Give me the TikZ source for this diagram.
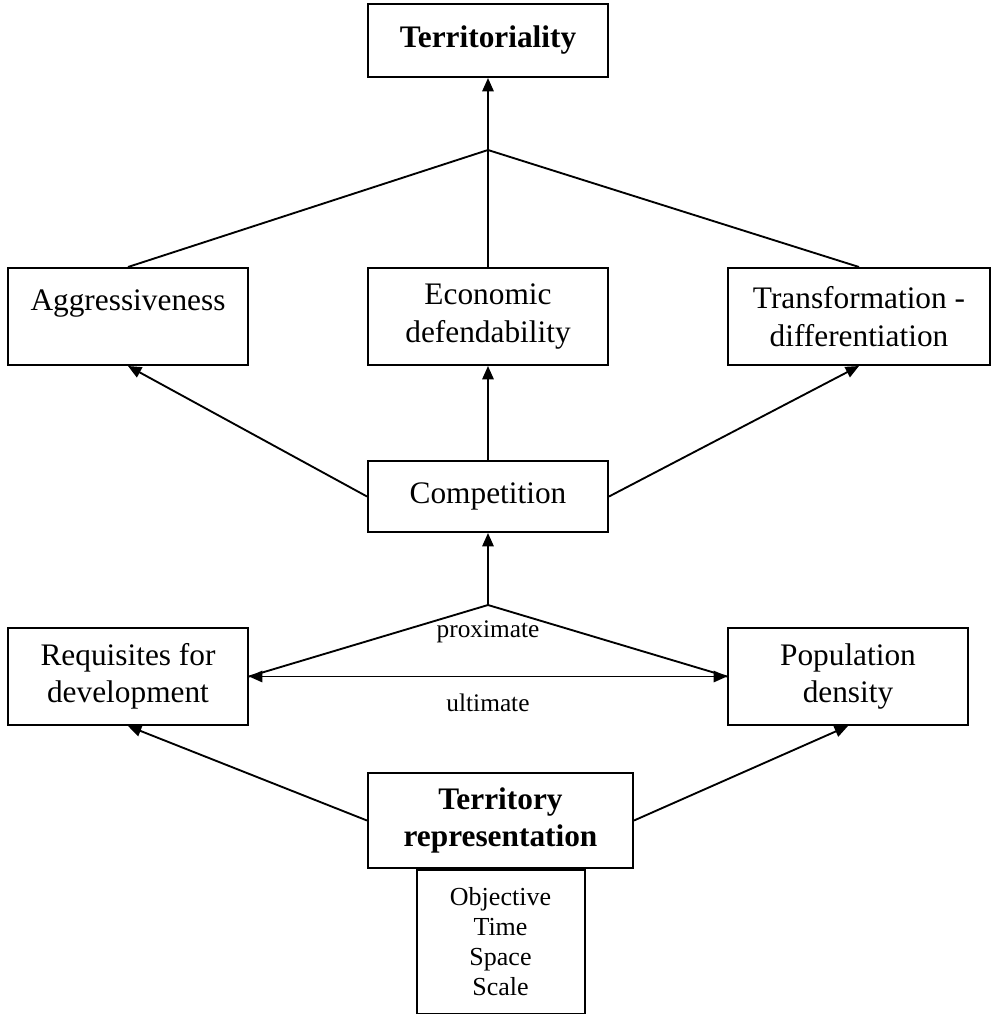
\documentclass[tikz,border=0pt]{standalone}
\usepackage{fontspec}
\setmainfont{Liberation Serif}
\usetikzlibrary{arrows.meta}

\begin{document}
\begin{tikzpicture}[
  x=0.75pt, y=-0.75pt,
  every node/.style={inner sep=0pt},
  box/.style={draw, line width=1.5pt, align=center,
    minimum width=180pt, minimum height=72.75pt,
    font=\fontsize{23.5}{28}\selectfont},
  boldbox/.style={box, font=\fontsize{23.5}{28}\selectfont\bfseries},
  lbl/.style={font=\fontsize{19}{22.5}\selectfont},
  link/.style={line width=1.4pt},
  arr/.style={link, -{Triangle[length=10pt, width=8.5pt]}},
  darr/.style={link, {Triangle[length=10pt, width=8.5pt]}-{Triangle[length=10pt, width=8.5pt]}}
]
  \useasboundingbox (0,0) rectangle (992,1014);

  % Top level
  \node[boldbox, minimum height=54.75pt] (terr) at (488,40.5) {Territoriality};
  \coordinate (topjoin) at (488,150);

  % Second level
  \node[box] (aggr)  at (128,316.5) {Aggressiveness\\[-12pt]\strut};
  \node[box] (econ)  at (488,316.5) {Economic\\defendability};
  \node[box, minimum width=196.5pt] (trans) at (859,316.5) {Transformation -\\differentiation};

  % Middle
  \node[box, minimum height=53.25pt] (comp) at (488,496.5) {Competition};
  \coordinate (midjoin) at (488,605);

  % Lower level
  \node[box] (req) at (128,676.5) {Requisites for\\development};
  \node[box] (pop) at (848,676.5) {Population\\density};

  % Bottom
  \node[boldbox, minimum width=198.75pt, minimum height=71.25pt] (rep) at (500.5,820.5) {Territory\\representation};
  \node[draw, line width=1.5pt, align=center, minimum width=126pt, minimum height=108pt,
    font=\fontsize{19.5}{22.5}\selectfont, anchor=north] (aspects) at (rep.south) {Objective\\Time\\Space\\Scale};

  % Connectors
  \draw[link] (aggr.north) -- (topjoin) -- (trans.north);
  \draw[arr] (econ.north) -- (terr.south);
  \draw[arr] (comp.west) -- (aggr.south);
  \draw[arr] (comp.north) -- (econ.south);
  \draw[arr] (comp.east) -- (trans.south);
  \draw[arr] (midjoin) -- (comp.south);
  \draw[link] (req.east) -- (midjoin) -- (pop.west);
  \draw[darr] (req.east) -- (pop.west);
  \draw[arr] (rep.west) -- (req.south);
  \draw[arr] (rep.east) -- (pop.south);

  % Labels
  \node[lbl] (prox) at (488,632) {proximate};
  \node[lbl] (ult) at (488,703) {ultimate};
\end{tikzpicture}
\end{document}
